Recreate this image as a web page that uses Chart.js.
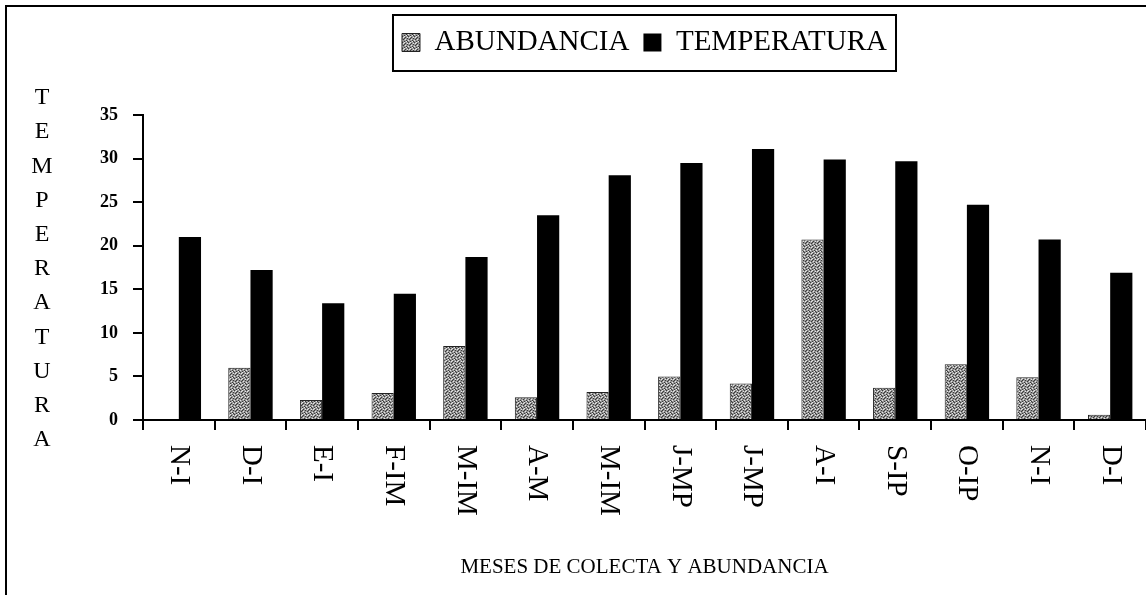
<!DOCTYPE html>
<html>
<head>
<meta charset="utf-8">
<script src="https://cdn.jsdelivr.net/npm/chart.js@4/dist/chart.umd.min.js"></script>
<style>
  html, body { margin: 0; padding: 0; background: #fff; overflow: hidden; }
  #wrap { width: 1146px; height: 595px; }
</style>
</head>
<body>
<div id="wrap"><canvas id="barChart" width="1146" height="595"></canvas></div>
<script>
// meses de colecta
var meses = ['N-I', 'D-I', 'E-I', 'F-IM', 'M-IM', 'A-M', 'M-IM', 'J-MP', 'J-MP', 'A-I', 'S-IP', 'O-IP', 'N-I', 'D-I'];
// valores
var abundancia = [0, 6.0, 2.3, 3.1, 8.5, 2.6, 3.2, 5.0, 4.2, 20.7, 3.7, 6.4, 4.9, 0.6];
var temperatura = [21.0, 17.2, 13.4, 14.5, 18.7, 23.5, 28.1, 29.5, 31.1, 29.9, 29.7, 24.7, 20.7, 16.9];
var yTitulo = 'TEMPERATURA';
var xTitulo = 'MESES DE COLECTA Y ABUNDANCIA';

var serif = "'Liberation Serif', 'Times New Roman', serif";

// gray speckled fill, like the scanned original
function speckle() {
    var c = document.createElement('canvas');
    c.width = 6;
    c.height = 6;
    var g = c.getContext('2d');
    g.fillStyle = '#979797';
    g.fillRect(0, 0, 6, 6);
    g.fillStyle = '#3a3a3a';
    [[0, 0], [3, 1], [1, 3], [4, 4], [2, 5], [5, 2], [5, 5], [2, 2]].forEach(function (p) {
        g.fillRect(p[0], p[1], 1, 1);
    });
    g.fillStyle = '#e6e6e6';
    [[2, 0], [5, 1], [0, 4], [3, 3], [1, 1], [4, 5]].forEach(function (p) {
        g.fillRect(p[0], p[1], 1, 1);
    });
    return g.createPattern(c, 'repeat');
}

var extras = {
    id: 'extras',
    beforeInit: function (chart) {
        // leave room between the legend and the plot
        var fit = chart.legend.fit;
        chart.legend.fit = function () {
            fit.call(this);
            this.height += 48;
        };
    },
    afterDraw: function (chart) {
        var ctx = chart.ctx;
        var xs = chart.scales.x;
        ctx.save();
        ctx.strokeStyle = '#000';
        ctx.lineWidth = 2;

        // outer frame (cut on the right and bottom like the scan)
        ctx.strokeRect(6, 6, 1200, 700);

        // box round the legend
        var boxes = chart.legend.legendHitBoxes;
        if (boxes.length) {
            var first = boxes[0];
            var last = boxes[boxes.length - 1];
            ctx.strokeRect(first.left - 9, first.top - 13, last.left + last.width - first.left + 18, first.height + 27);
        }

        // vertical y title, one letter per line
        ctx.fillStyle = '#000';
        ctx.font = '24px ' + serif;
        ctx.textAlign = 'center';
        ctx.textBaseline = 'middle';
        for (var i = 0; i < yTitulo.length; i++) {
            ctx.fillText(yTitulo[i], 42, 98 + i * 34.2);
        }

        // month labels, rotated to read top to bottom
        ctx.font = '29px ' + serif;
        ctx.textAlign = 'left';
        meses.forEach(function (m, idx) {
            var x = xs.getPixelForValue(idx);
            ctx.save();
            ctx.translate(x, xs.top + 25);
            ctx.rotate(Math.PI / 2);
            ctx.fillText(m, 0, 0);
            ctx.restore();
        });
        ctx.restore();
    }
};

var ctxB = document.getElementById('barChart').getContext('2d');
var myBarChart = new Chart(ctxB, {
    type: 'bar',
    data: {
        labels: meses,
        datasets: [{
            label: 'ABUNDANCIA',
            data: abundancia,
            backgroundColor: speckle(),
            borderColor: '#222',
            borderWidth: 1,
            barPercentage: 1.0,
            categoryPercentage: 0.62
        }, {
            label: 'TEMPERATURA',
            data: temperatura,
            backgroundColor: '#000',
            borderColor: '#000',
            borderWidth: 0,
            barPercentage: 1.0,
            categoryPercentage: 0.62
        }]
    },
    options: {
        responsive: false,
        animation: false,
        layout: {
            padding: { top: 14, left: 0, right: 0, bottom: 0 }
        },
        plugins: {
            legend: {
                position: 'top',
                fullSize: false,
                labels: {
                    color: '#000',
                    font: { family: serif, size: 29 },
                    boxWidth: 18,
                    boxHeight: 18,
                    padding: 14
                }
            },
            tooltip: { enabled: false }
        },
        scales: {
            x: {
                afterFit: function (scale) { scale.height = 175; },
                grid: {
                    display: true,
                    drawOnChartArea: false,
                    drawTicks: true,
                    tickLength: 10,
                    color: '#000',
                    lineWidth: 2
                },
                border: { display: true, color: '#000', width: 2 },
                ticks: { display: false },
                title: {
                    display: true,
                    text: xTitulo,
                    color: '#000',
                    font: { family: serif, size: 21 },
                    padding: { top: 0, bottom: 15 }
                }
            },
            y: {
                min: 0,
                max: 35,
                afterFit: function (scale) { scale.width = 143; },
                grid: {
                    display: true,
                    drawOnChartArea: false,
                    drawTicks: true,
                    tickLength: 10,
                    color: '#000',
                    lineWidth: 2
                },
                border: { display: true, color: '#000', width: 2 },
                ticks: {
                    stepSize: 5,
                    color: '#000',
                    padding: 15,
                    font: { family: serif, size: 18, weight: 'bold' }
                }
            }
        }
    },
    plugins: [extras]
});
</script>
</body>
</html>
